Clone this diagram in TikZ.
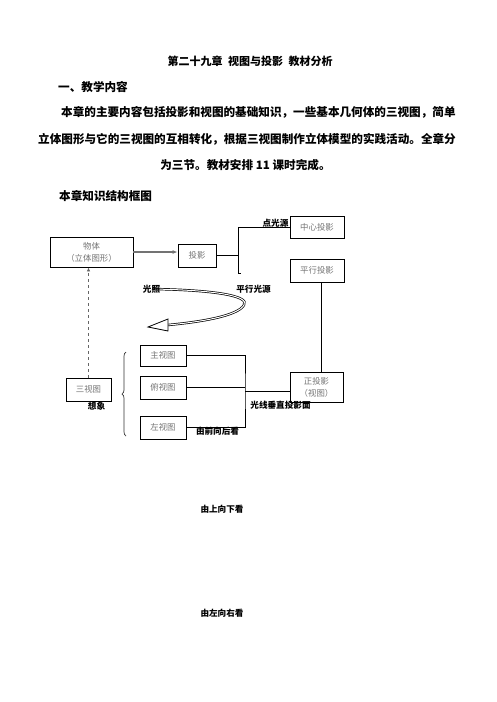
\documentclass[tikz,border=0pt]{standalone}
\usepackage{fontspec}
\newfontfamily\cjk{Noto Sans CJK SC}
\usepackage{xcolor}
\usetikzlibrary{arrows.meta,positioning,decorations.pathreplacing,calc}

\begin{document}
\begin{tikzpicture}[x=1pt, y=-1pt,
    every node/.style={font=\cjk},
    heading/.style={font=\cjk\bfseries\fontsize{11.6}{14}\selectfont, inner sep=0pt},
    concept/.style={rectangle, draw, line width=0.8pt, align=center, inner sep=1pt,
                    text=black!55, font=\cjk\fontsize{8.4}{12}\selectfont},
    tag/.style={inner sep=0pt, font=\cjk\bfseries\fontsize{8.6}{10}\selectfont},
    link/.style={line width=0.8pt},
    feed/.style={-{Latex[length=5pt,width=4pt]}, line width=1.6pt, black!55},
    imagine/.style={-{Latex[length=4pt,width=3.5pt]}, dashed, line width=0.9pt, black!60}
]
\useasboundingbox (0,0) rectangle (496,702);

% Text above the chart
\node[heading, font=\cjk\bfseries\fontsize{11}{14}\selectfont] (title) at (250,61) {第二十九章\hspace{0.5em}视图与投影\hspace{0.5em}教材分析};
\node[heading, anchor=west] (secA) at (58,87) {一、教学内容};
\node[heading, anchor=west] (line1) at (61,112) {本章的主要内容包括投影和视图的基础知识，一些基本几何体的三视图，简单};
\node[heading, anchor=west] (line2) at (38,139) {立体图形与它的三视图的互相转化，根据三视图制作立体模型的实践活动。全章分};
\node[heading] (line3) at (245.5,165) {为三节。教材安排 11 课时完成。};
\node[heading, anchor=west] (secB) at (59,196) {本章知识结构框图};

% Boxes
\node[concept, minimum width=83pt, minimum height=30pt] (obj) at (91.5,252) {物体\\（立体图形）};
\node[concept, minimum width=38pt, minimum height=23pt] (proj) at (197,255.5) {投影};
\node[concept, minimum width=54pt, minimum height=22pt] (central) at (317,227) {中心投影};
\node[concept, minimum width=54pt, minimum height=23pt] (parallel) at (317,270.5) {平行投影};
\node[concept, minimum width=53pt, minimum height=30pt] (ortho) at (316.5,387) {正投影\\（视图）};
\node[concept, minimum width=45pt, minimum height=23pt] (three) at (88.5,389.5) {三视图};
\node[concept, minimum width=46pt, minimum height=21pt] (mainv) at (163,355.5) {主视图};
\node[concept, minimum width=46pt, minimum height=23pt] (topv) at (163,387.5) {俯视图};
\node[concept, minimum width=46pt, minimum height=23pt] (sidev) at (163,427.5) {左视图};

% Connectors
\coordinate (split) at (238,273);
\coordinate (join) at (245,391);
\draw[feed] (obj.east) -- (obj.east -| proj.west);
\draw[link] (proj.east) -- (proj.east -| split);
\draw[link] (central.west) -| (split) -- ++(3,0);
\draw[link] (parallel.south -| 321,0) -- (ortho.north -| 321,0);
\draw[link] (mainv.east) -| (join) |- (sidev.east);
\draw[link] (topv.east) -- (topv.east -| join);
\draw[link] (join) -- (join -| ortho.west);
\draw[imagine] (three.north) -- (three.north |- obj.south);

% Brace
\draw[line width=0.7pt, black!80, decorate, decoration={brace, amplitude=4pt}] (126,436) -- (126,352);

% Light arrow (hollow)
\coordinate (lit) at (152,289);
\coordinate (turn) at (244,305);
\coordinate (base) at (168,325);
\coordinate (tip) at (148,327);
\draw[line width=2.4pt] (lit) .. controls (215,290) and (250,296) .. (turn)
    .. controls (238,316) and (200,322) .. (base);
\draw[line width=1pt, white] (lit) .. controls (215,290) and (250,296) .. (turn)
    .. controls (238,316) and (200,322) .. (base);
\draw[line width=0.8pt, fill=white] (tip) -- ($(base)+(0,-6)$) -- ($(base)+(0,6)$) -- cycle;

% Labels
\node[tag] (point) at (275.5,223) {点光源};
\node[tag] (light) at (151.5,289) {光照};
\node[tag] (parsrc) at (253.5,289) {平行光源};
\node[tag] (think) at (96.5,406) {想象};
\node[tag] (perp) at (280.5,405) {光线垂直投影面};
\node[tag] (fromfront) at (217.5,431) {由前向后看};
\node[tag] (fromtop) at (222,509) {由上向下看};
\node[tag] (fromleft) at (222,613) {由左向右看};

\end{tikzpicture}
\end{document}
